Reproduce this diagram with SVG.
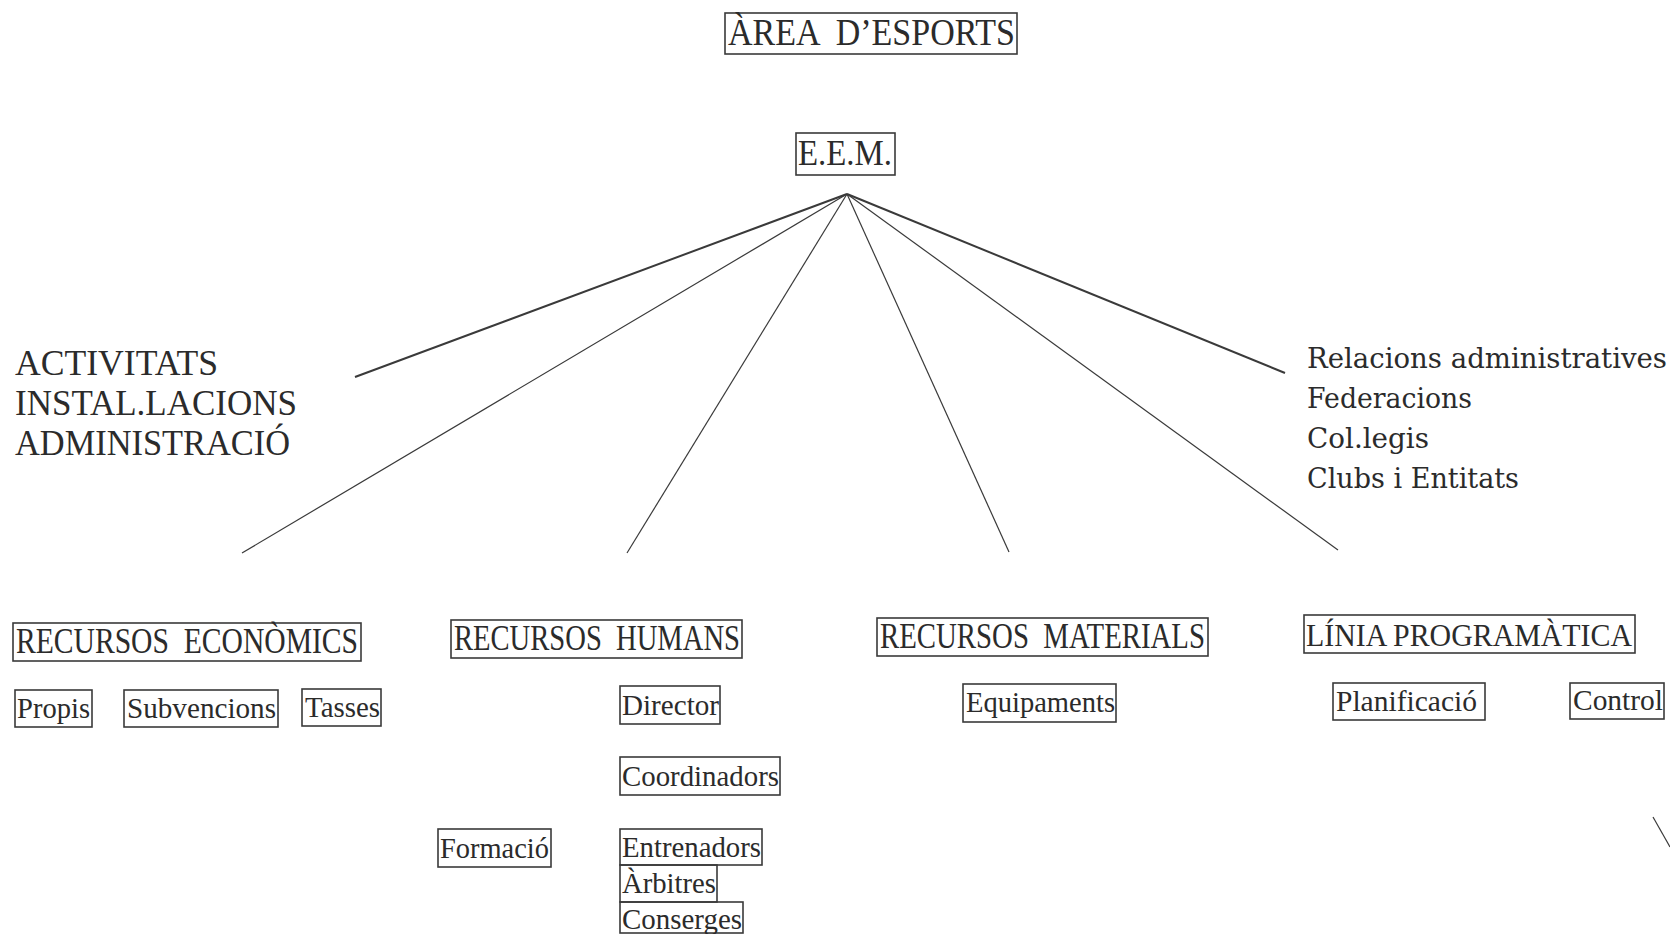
<svg xmlns="http://www.w3.org/2000/svg" width="1670" height="934" viewBox="0 0 1670 934">
<style>
.bg{fill:#ffffff}
.box{fill:none;stroke:#3a3a3a;stroke-width:1.6}
text{white-space:pre}
.t{font-family:"Liberation Serif","Times New Roman",serif;fill:#2b2b2b}
.h{font-size:35px}
.s{font-size:29px}
.w{font-family:"DejaVu Serif","Liberation Serif",serif;font-size:27px;fill:#2b2b2b}
.c{stroke:#3a3a3a;stroke-width:1.2;fill:none}
.c2{stroke-width:2}
</style>
<rect class="bg" x="0" y="0" width="1670" height="934"/>
<g id="connectors">
<line class="c c2" x1="847" y1="194" x2="355" y2="377"/>
<line class="c" x1="847" y1="194" x2="242" y2="553"/>
<line class="c" x1="847" y1="194" x2="627" y2="553"/>
<line class="c" x1="847" y1="194" x2="1009" y2="552"/>
<line class="c" x1="847" y1="194" x2="1338" y2="550"/>
<line class="c c2" x1="847" y1="194" x2="1285" y2="373"/>
<line class="c" x1="1653" y1="817" x2="1670" y2="847"/>
</g>
<g id="area">
<rect class="box" x="725" y="13" width="292" height="41"/>
<text class="t" x="728" y="45" font-size="37" textLength="287" lengthAdjust="spacingAndGlyphs">ÀREA  D’ESPORTS</text>
</g>
<g id="eem">
<rect class="box" x="796" y="133" width="99" height="42"/>
<text class="t" x="798" y="165" font-size="35" textLength="94" lengthAdjust="spacingAndGlyphs">E.E.M.</text>
</g>
<g id="left-list">
<text class="t" x="15" y="375" font-size="36" textLength="203" lengthAdjust="spacingAndGlyphs">ACTIVITATS</text>
<text class="t" x="15" y="415" font-size="36" textLength="282" lengthAdjust="spacingAndGlyphs">INSTAL.LACIONS</text>
<text class="t" x="15" y="455" font-size="36" textLength="275" lengthAdjust="spacingAndGlyphs">ADMINISTRACIÓ</text>
</g>
<g id="right-list">
<text class="w" x="1307" y="368" textLength="360" lengthAdjust="spacingAndGlyphs">Relacions administratives</text>
<text class="w" x="1307" y="408" textLength="165" lengthAdjust="spacingAndGlyphs">Federacions</text>
<text class="w" x="1307" y="448" textLength="122" lengthAdjust="spacingAndGlyphs">Col.legis</text>
<text class="w" x="1307" y="488" textLength="212" lengthAdjust="spacingAndGlyphs">Clubs i Entitats</text>
</g>
<g id="rec-economics">
<rect class="box" x="13" y="623" width="348" height="38"/>
<text class="t h" x="16" y="653" textLength="342" lengthAdjust="spacingAndGlyphs">RECURSOS  ECONÒMICS</text>
</g>
<g id="propis">
<rect class="box" x="15" y="690" width="77" height="37"/>
<text class="t s" x="17" y="718" textLength="73" lengthAdjust="spacingAndGlyphs">Propis</text>
</g>
<g id="subvencions">
<rect class="box" x="124" y="690" width="154" height="37"/>
<text class="t s" x="127" y="718" textLength="149" lengthAdjust="spacingAndGlyphs">Subvencions</text>
</g>
<g id="tasses">
<rect class="box" x="302" y="689" width="79" height="37"/>
<text class="t s" x="305" y="717" textLength="75" lengthAdjust="spacingAndGlyphs">Tasses</text>
</g>
<g id="rec-humans">
<rect class="box" x="451" y="620" width="291" height="38"/>
<text class="t h" x="454" y="650" textLength="286" lengthAdjust="spacingAndGlyphs">RECURSOS  HUMANS</text>
</g>
<g id="director">
<rect class="box" x="620" y="686" width="100" height="38"/>
<text class="t s" x="622" y="715" textLength="97" lengthAdjust="spacingAndGlyphs">Director</text>
</g>
<g id="coordinadors">
<rect class="box" x="620" y="757" width="160" height="38"/>
<text class="t s" x="622" y="786" textLength="157" lengthAdjust="spacingAndGlyphs">Coordinadors</text>
</g>
<g id="formacio">
<rect class="box" x="438" y="829" width="113" height="38"/>
<text class="t s" x="440" y="858" textLength="109" lengthAdjust="spacingAndGlyphs">Formació</text>
</g>
<g id="entrenadors">
<rect class="box" x="620" y="829" width="142" height="36"/>
<text class="t s" x="622" y="857" textLength="139" lengthAdjust="spacingAndGlyphs">Entrenadors</text>
</g>
<g id="arbitres">
<rect class="box" x="620" y="865" width="97" height="37"/>
<text class="t s" x="622" y="893" textLength="94" lengthAdjust="spacingAndGlyphs">Àrbitres</text>
</g>
<g id="conserges">
<rect class="box" x="620" y="902" width="123" height="31"/>
<text class="t s" x="622" y="929" textLength="120" lengthAdjust="spacingAndGlyphs">Conserges</text>
</g>
<g id="rec-materials">
<rect class="box" x="877" y="618" width="331" height="38"/>
<text class="t h" x="880" y="648" textLength="325" lengthAdjust="spacingAndGlyphs">RECURSOS  MATERIALS</text>
</g>
<g id="equipaments">
<rect class="box" x="963" y="684" width="153" height="38"/>
<text class="t s" x="966" y="712" textLength="149" lengthAdjust="spacingAndGlyphs">Equipaments</text>
</g>
<g id="linia">
<rect class="box" x="1304" y="615" width="331" height="38"/>
<text class="t" x="1306" y="646" font-size="32" textLength="326" lengthAdjust="spacingAndGlyphs">LÍNIA PROGRAMÀTICA</text>
</g>
<g id="planificacio">
<rect class="box" x="1333" y="683" width="152" height="37"/>
<text class="t s" x="1336" y="711" textLength="141" lengthAdjust="spacingAndGlyphs">Planificació</text>
</g>
<g id="control">
<rect class="box" x="1570" y="683" width="94" height="36"/>
<text class="t s" x="1573" y="710" textLength="90" lengthAdjust="spacingAndGlyphs">Control</text>
</g>
</svg>
